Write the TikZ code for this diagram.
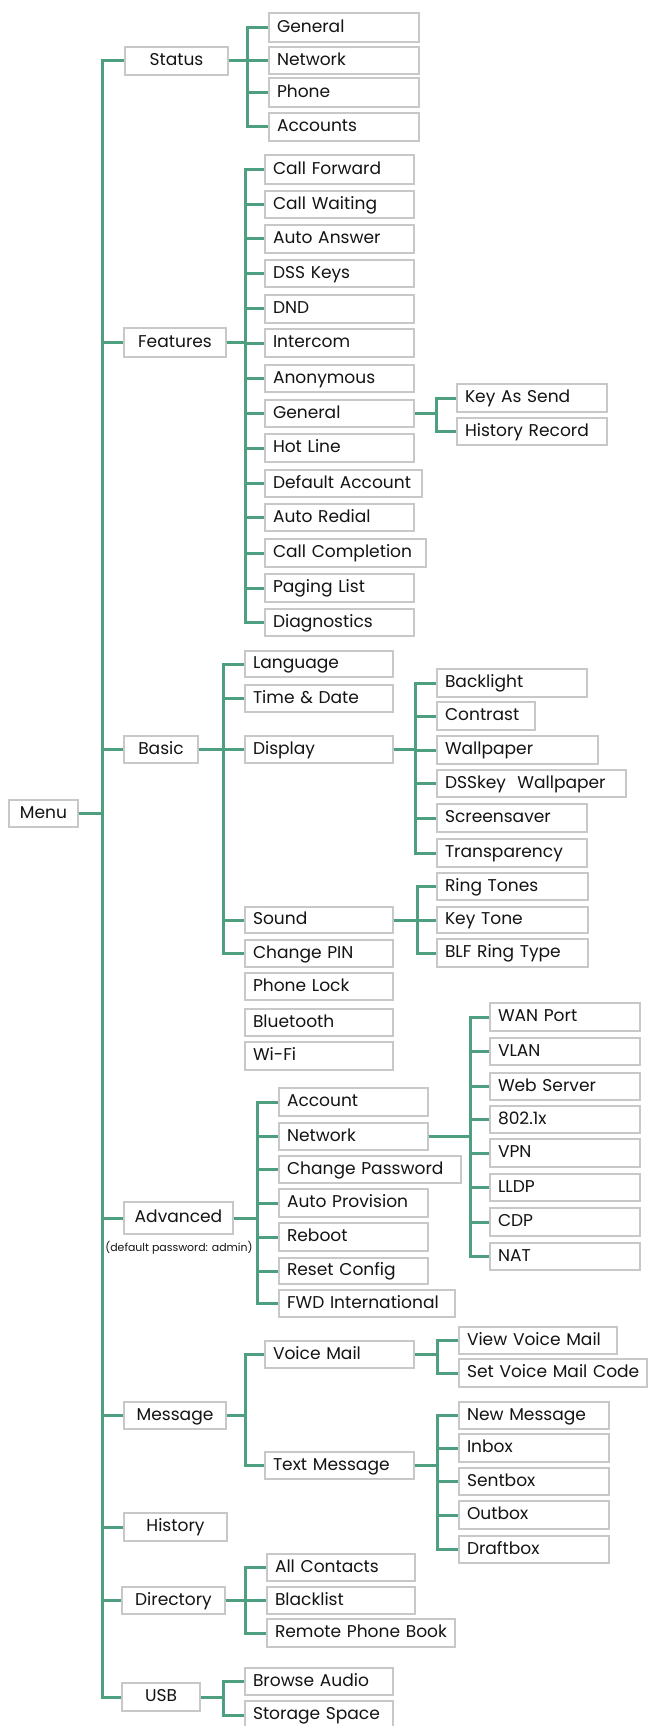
\documentclass[tikz,border=0pt]{standalone}
\usepackage{fontspec}
\setmainfont{Poppins}
\definecolor{lg}{RGB}{78,158,128}
\definecolor{bgr}{RGB}{200,200,200}
\definecolor{tx}{RGB}{20,20,20}
\tikzset{
  boxbase/.style={draw=bgr, line width=1.1pt, fill=white, inner xsep=6pt, inner ysep=0pt,
    text=tx, font=\fontsize{12.8}{14}\selectfont, text height=0.7em, text depth=0pt},
  lbox/.style={boxbase, align=left},
  cbox/.style={boxbase, align=center},
  conn/.style={draw=lg, line width=2.25pt},
  note/.style={text=tx, font=\fontsize{8.2}{9}\selectfont, inner sep=0pt}
}
\newcommand\mybox[7]{%
  \pgfmathsetmacro\bw{(#5-#3)*0.75-12}%
  \pgfmathsetmacro\bh{(#6-#4)*0.75}%
  \node[#1, text width=\bw pt, minimum height=\bh pt] (#2) at ({(#3+#5)/2},{(#4+#6)/2}) {\mbox{#7}};}
\newcommand\branch[3]{%
  \foreach \c in {#3} {\draw[conn] (#1.east) -- (#1.east -| #2) |- (\c.west);}}
\begin{document}
\begin{tikzpicture}[x=0.75pt, y=-0.75pt]
\useasboundingbox (0,0) rectangle (648,1726);
% level 0/1
\mybox{cbox}{menu}{9}{800}{78}{827}{Menu}
\mybox{cbox}{status}{125}{47}{228}{75}{Status}
\mybox{cbox}{feat}{124}{328}{226}{357}{Features}
\mybox{cbox}{basic}{124}{736}{198}{763}{Basic}
\mybox{cbox}{adv}{124}{1202}{233}{1234}{Advanced}
\mybox{cbox}{msg}{124}{1402}{226}{1429}{Message}
\mybox{cbox}{hist}{124}{1513}{227}{1541}{History}
\mybox{cbox}{dir}{122}{1587}{225}{1614}{Directory}
\mybox{cbox}{usb}{122}{1683}{200}{1711}{USB}
\node[note] (advnote) at (179,1248) {(default password: admin)};
% status
\mybox{lbox}{sgen}{269}{13}{419}{42}{General}
\mybox{lbox}{snet}{269}{47}{419}{74}{Network}
\mybox{lbox}{sph}{269}{78}{419}{107}{Phone}
\mybox{lbox}{sacc}{269}{113}{419}{141}{Accounts}
% features
\mybox{lbox}{fcf}{265}{155}{414}{184}{Call Forward}
\mybox{lbox}{fcw}{265}{191}{414}{218}{Call Waiting}
\mybox{lbox}{faa}{265}{225}{414}{253}{Auto Answer}
\mybox{lbox}{fdss}{265}{260}{414}{287}{DSS Keys}
\mybox{lbox}{fdnd}{265}{295}{414}{323}{DND}
\mybox{lbox}{fic}{265}{329}{414}{357}{Intercom}
\mybox{lbox}{fan}{265}{365}{414}{392}{Anonymous}
\mybox{lbox}{fgen}{265}{400}{414}{427}{General}
\mybox{lbox}{fhl}{265}{434}{414}{462}{Hot Line}
\mybox{lbox}{fda}{265}{470}{422}{497}{Default Account}
\mybox{lbox}{far}{265}{504}{414}{531}{Auto Redial}
\mybox{lbox}{fcc}{265}{539}{426}{567}{Call Completion}
\mybox{lbox}{fpl}{265}{574}{414}{602}{Paging List}
\mybox{lbox}{fdia}{265}{609}{414}{636}{Diagnostics}
\mybox{lbox}{gkas}{457}{384}{607}{412}{Key As Send}
\mybox{lbox}{ghr}{457}{418}{607}{445}{History Record}
% basic
\mybox{lbox}{blang}{245}{651}{393}{677}{Language}
\mybox{lbox}{btd}{245}{685}{393}{712}{Time \& Date}
\mybox{lbox}{bdisp}{245}{736}{393}{763}{Display}
\mybox{lbox}{bsnd}{245}{907}{393}{933}{Sound}
\mybox{lbox}{bpin}{245}{940}{393}{967}{Change PIN}
\mybox{lbox}{bpl}{245}{973}{393}{1000}{Phone Lock}
\mybox{lbox}{bbt}{245}{1009}{393}{1036}{Bluetooth}
\mybox{lbox}{bwifi}{245}{1042}{393}{1070}{Wi-Fi}
\mybox{lbox}{dbl}{437}{669}{587}{697}{Backlight}
\mybox{lbox}{dco}{437}{702}{535}{730}{Contrast}
\mybox{lbox}{dwp}{437}{736}{598}{764}{Wallpaper}
\mybox{lbox}{ddss}{437}{770}{626}{797}{DSSkey\ \ Wallpaper}
\mybox{lbox}{dss}{437}{804}{587}{832}{Screensaver}
\mybox{lbox}{dtr}{437}{839}{587}{867}{Transparency}
\mybox{lbox}{srt}{437}{873}{588}{900}{Ring Tones}
\mybox{lbox}{skt}{437}{907}{588}{933}{Key Tone}
\mybox{lbox}{sblf}{437}{939}{588}{967}{BLF Ring Type}
% advanced
\mybox{lbox}{aacc}{279}{1088}{428}{1116}{Account}
\mybox{lbox}{anet}{279}{1123}{428}{1150}{Network}
\mybox{lbox}{acp}{279}{1156}{461}{1183}{Change Password}
\mybox{lbox}{aap}{279}{1189}{428}{1217}{Auto Provision}
\mybox{lbox}{arb}{279}{1223}{428}{1251}{Reboot}
\mybox{lbox}{arc}{279}{1258}{428}{1284}{Reset Config}
\mybox{lbox}{afwd}{279}{1290}{455}{1317}{FWD International}
\mybox{lbox}{nwan}{490}{1003}{640}{1031}{WAN Port}
\mybox{lbox}{nvlan}{490}{1038}{640}{1065}{VLAN}
\mybox{lbox}{nweb}{490}{1073}{640}{1100}{Web Server}
\mybox{lbox}{n8021}{490}{1106}{640}{1133}{802.1x}
\mybox{lbox}{nvpn}{490}{1139}{640}{1167}{VPN}
\mybox{lbox}{nlldp}{490}{1174}{640}{1201}{LLDP}
\mybox{lbox}{ncdp}{490}{1208}{640}{1236}{CDP}
\mybox{lbox}{nnat}{490}{1243}{640}{1270}{NAT}
% message
\mybox{lbox}{mvm}{265}{1341}{414}{1368}{Voice Mail}
\mybox{lbox}{mtm}{265}{1452}{414}{1479}{Text Message}
\mybox{lbox}{vview}{459}{1327}{617}{1354}{View Voice Mail}
\mybox{lbox}{vset}{459}{1359}{647}{1387}{Set Voice Mail Code}
\mybox{lbox}{tnew}{459}{1402}{609}{1429}{New Message}
\mybox{lbox}{tin}{459}{1434}{609}{1462}{Inbox}
\mybox{lbox}{tsent}{459}{1468}{609}{1495}{Sentbox}
\mybox{lbox}{tout}{459}{1501}{609}{1529}{Outbox}
\mybox{lbox}{tdraft}{459}{1536}{609}{1563}{Draftbox}
% directory
\mybox{lbox}{dall}{267}{1554}{415}{1581}{All Contacts}
\mybox{lbox}{dblk}{267}{1587}{415}{1614}{Blacklist}
\mybox{lbox}{drpb}{267}{1619}{455}{1647}{Remote Phone Book}
% usb
\mybox{lbox}{uba}{245}{1668}{393}{1695}{Browse Audio}
\mybox{lbox}{uss}{245}{1701}{393}{1729}{Storage Space}
% buses
\coordinate (bm) at (102,0);
\coordinate (bs) at (247,0);
\coordinate (bf) at (245,0);
\coordinate (bg) at (436,0);
\coordinate (bb) at (223,0);
\coordinate (bd) at (415,0);
\coordinate (bsn) at (417,0);
\coordinate (ba) at (257,0);
\coordinate (bn) at (470,0);
\coordinate (bmsg) at (245,0);
\coordinate (bvm) at (437,0);
\coordinate (btm) at (437,0);
\coordinate (bdir) at (245,0);
\coordinate (busb) at (223,0);
\branch{menu}{bm}{status,feat,basic,adv,msg,hist,dir,usb}
\branch{status}{bs}{sgen,snet,sph,sacc}
\branch{feat}{bf}{fcf,fcw,faa,fdss,fdnd,fic,fan,fgen,fhl,fda,far,fcc,fpl,fdia}
\branch{fgen}{bg}{gkas,ghr}
\branch{basic}{bb}{blang,btd,bdisp,bsnd,bpin}
\branch{bdisp}{bd}{dbl,dco,dwp,ddss,dss,dtr}
\branch{bsnd}{bsn}{srt,skt,sblf}
\branch{adv}{ba}{aacc,anet,acp,aap,arb,arc,afwd}
\branch{anet}{bn}{nwan,nvlan,nweb,n8021,nvpn,nlldp,ncdp,nnat}
\branch{msg}{bmsg}{mvm,mtm}
\branch{mvm}{bvm}{vview,vset}
\branch{mtm}{btm}{tnew,tin,tsent,tout,tdraft}
\branch{dir}{bdir}{dall,dblk,drpb}
\branch{usb}{busb}{uba,uss}
\end{tikzpicture}
\end{document}
